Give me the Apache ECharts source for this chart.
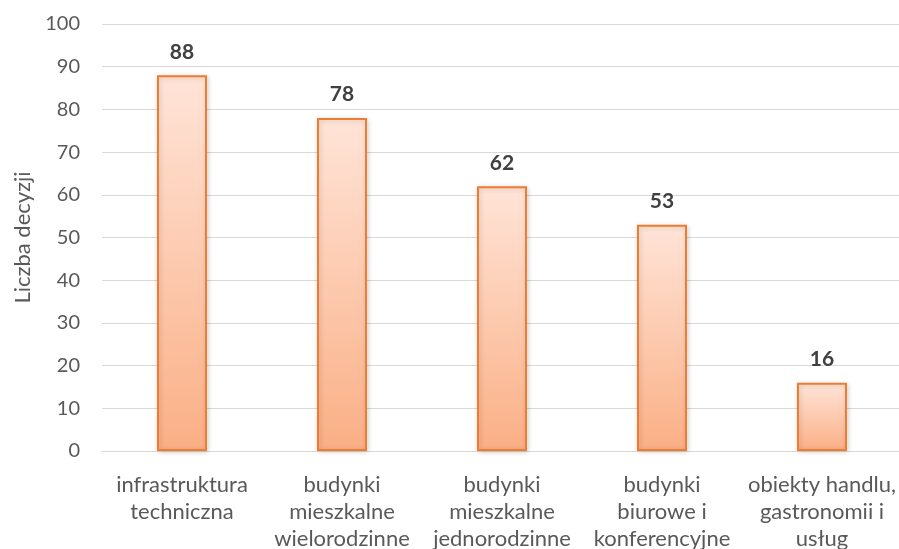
<!DOCTYPE html>
<html>
<head>
<meta charset="utf-8">
<script src="https://cdn.jsdelivr.net/npm/echarts@6/dist/echarts.min.js"></script>
<style>
html,body{margin:0;padding:0;background:#fff;}
#c{width:899px;height:549px;}
</style>
</head>
<body>
<div id="c"></div>
<script>
const categories = [
  "infrastruktura\ntechniczna",
  "budynki\nmieszkalne\nwielorodzinne",
  "budynki\nmieszkalne\njednorodzinne",
  "budynki\nbiurowe i\nkonferencyjne",
  "obiekty handlu,\ngastronomii i\nusług"
];
const values = [88, 78, 62, 53, 16];
const yTicks = {min: 0, max: 100, interval: 10};
const yName = "Liczba decyzji";

const chart = echarts.init(document.getElementById('c'), null, {renderer: 'canvas'});
const font = 'Lato, "Open Sans", sans-serif';
chart.setOption({
  animation: false,
  grid: {left: 102, top: 24, width: 800, height: 427, containLabel: false, outerBoundsMode: 'none'},
  xAxis: {
    type: 'category',
    data: categories,
    axisLine: {lineStyle: {color: '#D9D9D9', width: 1}},
    axisTick: {show: false},
    axisLabel: {
      color: '#595959', fontFamily: font, fontSize: 22, lineHeight: 27,
      margin: 20, interval: 0
    }
  },
  yAxis: {
    type: 'value',
    min: yTicks.min, max: yTicks.max, interval: yTicks.interval,
    name: yName,
    nameLocation: 'middle',
    nameGap: 68,
    nameRotate: 90,
    nameTextStyle: {color: '#595959', fontFamily: font, fontSize: 22},
    axisLine: {show: false},
    axisTick: {show: false},
    axisLabel: {color: '#595959', fontFamily: font, fontSize: 20, margin: 22},
    splitLine: {lineStyle: {color: '#D9D9D9', width: 1}}
  },
  series: [{
    type: 'bar',
    data: values,
    barWidth: 50,
    itemStyle: {
      color: new echarts.graphic.LinearGradient(0, 0, 0, 1, [
        {offset: 0, color: '#FFE4D8'},
        {offset: 1, color: '#FAAF85'}
      ]),
      borderColor: '#ED7D31',
      borderWidth: 2,
      shadowColor: 'rgba(0,0,0,0.18)',
      shadowBlur: 5,
      shadowOffsetX: 1,
      shadowOffsetY: 1
    },
    label: {
      show: true, position: 'top', distance: 13,
      color: '#404040', fontFamily: font, fontSize: 21, fontWeight: 'bold'
    }
  }]
});
</script>
</body>
</html>
